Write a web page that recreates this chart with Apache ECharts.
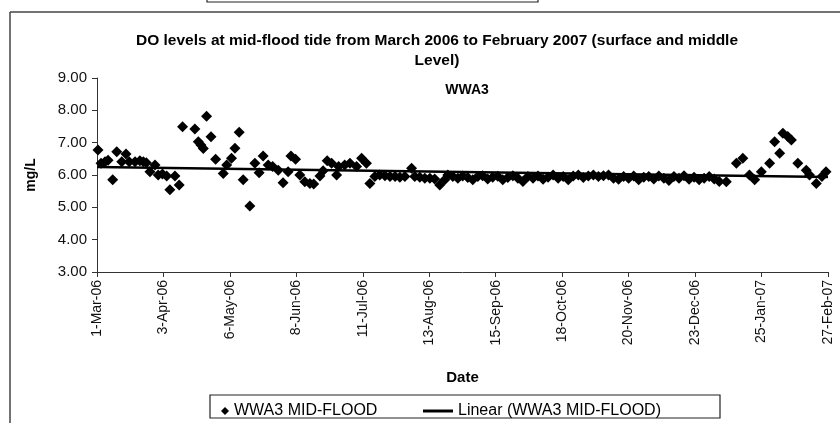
<!DOCTYPE html>
<html>
<head>
    <meta charset="UTF-8">
    <title>DO levels WWA3</title>
    <script type="text/javascript" src="https://cdn.jsdelivr.net/npm/echarts@6/dist/echarts.min.js"></script>
    <style>
        body,html{
            margin: 0;
            padding: 0;
            width: 840px;
            height: 423px;
            background: #fff;
        }
        #chart{
            width: 840px;
            height: 423px;
        }
    </style>
</head>
<body>
<div id="chart"></div>
<script>
    // days counted from 1-Mar-06
    var tickLabels = ['1-Mar-06','3-Apr-06','6-May-06','8-Jun-06','11-Jul-06','13-Aug-06',
        '15-Sep-06','18-Oct-06','20-Nov-06','23-Dec-06','25-Jan-07','27-Feb-07'];

    var sampleDays = [0.5, 2, 4, 5.5, 7.8, 9.8, 12.3, 14.4, 16, 18.9, 21.3, 23, 24.5, 26.3, 28.8, 30.4, 32.5, 34.6, 36.2, 38.7,
        40.8, 42.5, 48.6, 50.3, 51.6, 52.8, 54.4, 56.6, 58.9, 62.7, 64.4, 66.8, 68.5, 70.6, 72.6, 75.9, 78.4, 80.5, 82.5, 85,
        87.2, 90, 92.4, 94.9, 96.3, 98.6, 100.7, 103.2, 105.7, 107.6, 110.7, 112.3, 114.3, 116.5, 119, 120, 123, 125.6, 128.9, 131.4,
        133.8, 135.5, 138, 140.4, 143, 145.5, 148, 150.4, 152.9, 156.2, 157.8, 160.3, 162.8, 165.3, 167.7, 170.2, 172.7, 174.2, 176.7, 179.2,
        181.6, 184.1, 186.6, 189.1, 191.5, 194, 196.5, 199, 201.5, 204, 206.5, 209, 211.5, 214, 216.5, 219, 221.5, 224, 226.5, 229,
        231.5, 234, 236.5, 239, 241.5, 244, 246.5, 249, 251.5, 254, 256.5, 259, 261.5, 264, 266.5, 269, 271.5, 274, 276.5, 279,
        281.5, 284, 286.5, 289, 291.5, 294, 296.5, 299, 301.5, 304, 306.5, 309, 312.5, 317.5, 320.7, 324, 326.6, 329.9, 334, 336.5,
        339, 340.6, 343, 344.8, 348, 352.2, 353.8, 357.2, 360, 362];

    var doValues = [6.77, 6.36, 6.41, 6.46, 5.85, 6.72, 6.41, 6.65, 6.41, 6.41, 6.44, 6.41, 6.38, 6.10, 6.31, 6.00, 6.03, 5.97, 5.54, 5.97,
        5.69, 7.49, 7.42, 7.03, 6.93, 6.82, 7.82, 7.18, 6.49, 6.05, 6.31, 6.52, 6.83, 7.32, 5.85, 5.04, 6.36, 6.07, 6.59, 6.31,
        6.26, 6.15, 5.76, 6.10, 6.59, 6.49, 6.00, 5.79, 5.74, 5.72, 5.97, 6.13, 6.44, 6.36, 6.00, 6.26, 6.31, 6.36, 6.26, 6.52,
        6.36, 5.74, 5.95, 6.00, 5.98, 5.95, 5.95, 5.93, 5.95, 6.21, 5.95, 5.93, 5.90, 5.90, 5.88, 5.69, 5.85, 6.00, 5.95, 5.90,
        5.97, 5.92, 5.85, 5.95, 5.98, 5.88, 5.93, 5.96, 5.85, 5.92, 5.98, 5.90, 5.80, 5.95, 5.90, 5.97, 5.87, 5.93, 6.00, 5.90,
        5.95, 5.85, 5.97, 6.00, 5.92, 5.97, 6.00, 5.95, 5.98, 6.00, 5.90, 5.87, 5.95, 5.90, 5.97, 5.85, 5.93, 5.95, 5.88, 5.97,
        5.90, 5.83, 5.95, 5.90, 5.98, 5.87, 5.93, 5.85, 5.90, 5.95, 5.88, 5.80, 5.79, 6.36, 6.52, 6.00, 5.85, 6.10, 6.36, 7.03,
        6.67, 7.29, 7.19, 7.08, 6.36, 6.15, 6.00, 5.74, 5.95, 6.10];

    // linear trend line end points
    var trendDays = [0, 363];
    var trendValues = [6.25, 5.94];

    var FONT = 'Liberation Sans, Arial, sans-serif';

    function buildChart()
    {
        var scatterData = [];
        for(var i=0;i<sampleDays.length;i++)
        {
            scatterData.push([sampleDays[i], doValues[i]]);
        }
        var trendData = [];
        for(var j=0;j<trendDays.length;j++)
        {
            trendData.push([trendDays[j], trendValues[j]]);
        }

        var echart = echarts.init(document.getElementById('chart'));
        var option = {
            animation: false,
            title : [
                {
                    text: 'DO levels at mid-flood tide from March 2006 to February 2007 (surface and middle\nLevel)',
                    left: 432,
                    top: 26,
                    textAlign: 'center',
                    textStyle: {fontFamily: FONT, fontSize: 15.5, fontWeight: 'bold', color: '#000', lineHeight: 20}
                },
                {
                    text: 'WWA3',
                    left: 462,
                    top: 78,
                    textAlign: 'center',
                    textStyle: {fontFamily: FONT, fontSize: 14, fontWeight: 'bold', color: '#000'}
                }
            ],
            grid: {left: 97, right: 12, top: 78, bottom: 151},
            xAxis: {
                type: 'value',
                min: 0,
                max: 363,
                interval: 33,
                name: 'Date',
                nameLocation: 'middle',
                nameGap: 98,
                nameTextStyle: {fontFamily: FONT, fontSize: 15, fontWeight: 'bold', color: '#000'},
                splitLine: {show: false},
                axisLine: {lineStyle: {color: '#333', width: 1}},
                axisTick: {length: 5, lineStyle: {color: '#333'}},
                axisLabel: {
                    rotate: 90,
                    margin: 8,
                    fontFamily: FONT,
                    fontSize: 14,
                    color: '#111',
                    formatter: function(v){ return tickLabels[Math.round(v/33)]; }
                }
            },
            yAxis: {
                type: 'value',
                min: 3,
                max: 9,
                interval: 1,
                name: 'mg/L',
                nameLocation: 'middle',
                nameRotate: 90,
                nameGap: 59,
                nameTextStyle: {fontFamily: FONT, fontSize: 14, fontWeight: 'bold', color: '#000'},
                splitLine: {show: false},
                axisLine: {show: true, lineStyle: {color: '#333', width: 1}},
                axisTick: {show: true, length: 5, lineStyle: {color: '#333'}},
                axisLabel: {
                    margin: 10,
                    fontFamily: FONT,
                    fontSize: 15,
                    color: '#111',
                    formatter: function(v){ return v.toFixed(2); }
                }
            },
            legend: [
                {
                    data: [{name: 'WWA3 MID-FLOOD', icon: 'diamond'}],
                    left: 216,
                    top: 398,
                    itemWidth: 8,
                    itemHeight: 8,
                    textStyle: {fontFamily: FONT, fontSize: 16, color: '#000'}
                },
                {
                    data: [{name: 'Linear (WWA3 MID-FLOOD)', icon: 'rect'}],
                    left: 418,
                    top: 398,
                    itemWidth: 30,
                    itemHeight: 3,
                    textStyle: {fontFamily: FONT, fontSize: 16, color: '#000'}
                }
            ],
            graphic: [
                {type: 'line', shape: {x1: 10, y1: 12, x2: 840, y2: 12}, style: {stroke: '#444', lineWidth: 1.5}},
                {type: 'line', shape: {x1: 10, y1: 12, x2: 10, y2: 423}, style: {stroke: '#444', lineWidth: 1.5}},
                {type: 'rect', shape: {x: 207, y: -10, width: 331, height: 12}, style: {stroke: '#222', fill: 'none', lineWidth: 1.2}},
                {type: 'rect', shape: {x: 210, y: 395, width: 510, height: 23}, style: {stroke: '#222', fill: 'none', lineWidth: 1.2}}
            ],
            series : [
                {
                    name: 'WWA3 MID-FLOOD',
                    type: 'scatter',
                    symbol: 'diamond',
                    symbolSize: 11,
                    itemStyle: {color: '#000', opacity: 1},
                    data: scatterData,
                    z: 3
                },
                {
                    name: 'Linear (WWA3 MID-FLOOD)',
                    type: 'line',
                    symbol: 'none',
                    lineStyle: {color: '#000', width: 2.5},
                    itemStyle: {color: '#000'},
                    data: trendData,
                    z: 2
                }
            ]
        };

        echart.setOption(option);
    }

    buildChart();
</script>
</body>
</html>
